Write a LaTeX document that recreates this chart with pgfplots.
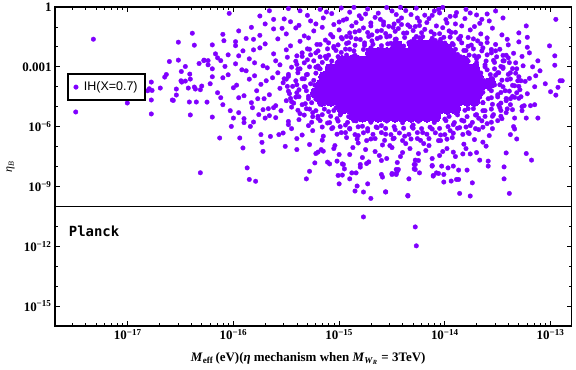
\documentclass[border=0pt]{standalone}
\usepackage{fontspec}
\setmainfont{Liberation Serif}
\newfontfamily\legfont{Liberation Sans}
\newfontfamily\plfont{DejaVu Sans Mono}
\usepackage{pgfplots}
\pgfplotsset{compat=1.18}
\usetikzlibrary{calc}
\definecolor{dotviolet}{rgb}{0.5,0,1}
% axes carry log10 values, ticks labelled by hand
\newcommand\tl[1]{10\textsuperscript{−#1}}

\begin{document}
\begin{tikzpicture}
\begin{axis}[
  scale only axis, width=516.7bp, height=319bp,
  xmin=-17.688, xmax=-12.80, ymin=-16, ymax=0,
  xtick={-17,-16,-15,-14,-13},
  xticklabels={\tl{17},\tl{16},\tl{15},\tl{14},\tl{13}},
  minor xtick={-17.523,-17.398,-17.301,-17.222,-17.155,-17.097,-17.046,
    -16.699,-16.523,-16.398,-16.301,-16.222,-16.155,-16.097,-16.046,
    -15.699,-15.523,-15.398,-15.301,-15.222,-15.155,-15.097,-15.046,
    -14.699,-14.523,-14.398,-14.301,-14.222,-14.155,-14.097,-14.046,
    -13.699,-13.523,-13.398,-13.301,-13.222,-13.155,-13.097,-13.046},
  ytick={0,-3,-6,-9,-12,-15},
  yticklabels={1,0.001,\tl{6},\tl{9},\tl{12},\tl{15}},
  minor ytick={-1,-2,-4,-5,-7,-8,-10,-11,-13,-14},
  ticklabel style={font=\fontsize{13}{15}\selectfont\bfseries},
  major tick length=5bp, minor tick length=3bp,
  tick style={black, line width=0.8bp},
  axis line style={line width=1.2bp},
  xlabel={\textbf{\textit{M}\textsubscript{eff}\,(eV)(\textit{η} mechanism when \textit{M}\textsubscript{\textit{W}\textsubscript{\textit{R}}} = 3TeV)}},
  xlabel style={at={(axis description cs:0.49,-0.102)}, anchor=center, font=\fontsize{13}{15}\selectfont},
  ylabel={\textit{η}\textsubscript{\textit{B}}},
  ylabel style={at={(axis description cs:-0.086,0.5)}, anchor=center, font=\fontsize{12}{14}\selectfont},
  legend style={at={(0.0232,0.792)}, anchor=north west, draw=black, line width=2bp,
    fill=white, font=\legfont\fontsize{12.5}{14}\selectfont, inner xsep=5bp, inner ysep=5.5bp},
  legend image code/.code={\draw[#1] plot coordinates {(0bp,0bp)}; \path[draw=none] (-3bp,0bp) -- (6bp,0bp);},
]
% dense core, overlapping points drawn as larger dots
\addplot[only marks, mark=*, mark size=5.5bp, color=dotviolet, mark options={line width=0pt}, forget plot] coordinates {
(-14.45,-1.95)(-14.30,-1.9)(-14.22,-1.9)(-14.14,-1.9)(-14.06,-1.95)(-13.98,-2.1)
(-14.70,-2.3)(-14.63,-2.3)(-14.55,-2.3)(-14.47,-2.3)(-14.40,-2.3)(-14.32,-2.3)(-14.25,-2.3)(-14.17,-2.3)(-14.09,-2.3)(-14.02,-2.3)(-13.94,-2.35)
(-14.97,-2.7)(-14.89,-2.7)(-14.82,-2.7)(-14.74,-2.7)(-14.66,-2.7)(-14.59,-2.7)(-14.51,-2.7)(-14.44,-2.7)(-14.36,-2.7)(-14.28,-2.7)(-14.21,-2.7)(-14.13,-2.7)(-14.05,-2.7)(-13.98,-2.7)(-13.90,-2.7)(-13.82,-2.7)
(-15.08,-3.1)(-15.00,-3.1)(-14.93,-3.1)(-14.85,-3.1)(-14.78,-3.1)(-14.70,-3.1)(-14.62,-3.1)(-14.55,-3.1)(-14.47,-3.1)(-14.40,-3.1)(-14.32,-3.1)(-14.25,-3.1)(-14.17,-3.1)(-14.09,-3.1)(-14.02,-3.1)(-13.94,-3.1)(-13.87,-3.1)(-13.79,-3.1)(-13.72,-3.1)
(-15.14,-3.5)(-15.06,-3.5)(-14.99,-3.5)(-14.91,-3.5)(-14.83,-3.5)(-14.76,-3.5)(-14.68,-3.5)(-14.61,-3.5)(-14.53,-3.5)(-14.45,-3.5)(-14.38,-3.5)(-14.30,-3.5)(-14.23,-3.5)(-14.15,-3.5)(-14.07,-3.5)(-14.00,-3.5)(-13.92,-3.5)(-13.84,-3.5)(-13.77,-3.5)(-13.69,-3.5)
(-15.17,-3.9)(-15.09,-3.9)(-15.02,-3.9)(-14.94,-3.9)(-14.86,-3.9)(-14.79,-3.9)(-14.71,-3.9)(-14.64,-3.9)(-14.56,-3.9)(-14.48,-3.9)(-14.41,-3.9)(-14.33,-3.9)(-14.26,-3.9)(-14.18,-3.9)(-14.10,-3.9)(-14.03,-3.9)(-13.95,-3.9)(-13.88,-3.9)(-13.80,-3.9)(-13.72,-3.9)(-13.65,-3.9)(-13.57,-3.8)
(-15.22,-4.3)(-15.14,-4.3)(-15.06,-4.3)(-14.99,-4.3)(-14.91,-4.3)(-14.83,-4.3)(-14.76,-4.3)(-14.68,-4.3)(-14.61,-4.3)(-14.53,-4.3)(-14.45,-4.3)(-14.38,-4.3)(-14.30,-4.3)(-14.23,-4.3)(-14.15,-4.3)(-14.07,-4.3)(-14.00,-4.3)(-13.92,-4.3)(-13.84,-4.3)(-13.77,-4.3)(-13.69,-4.3)
(-15.16,-4.7)(-15.08,-4.7)(-15.00,-4.7)(-14.93,-4.7)(-14.85,-4.7)(-14.78,-4.7)(-14.70,-4.7)(-14.62,-4.7)(-14.55,-4.7)(-14.47,-4.7)(-14.40,-4.7)(-14.32,-4.7)(-14.25,-4.7)(-14.17,-4.7)(-14.09,-4.7)(-14.02,-4.7)(-13.94,-4.7)(-13.87,-4.7)(-13.79,-4.7)(-13.72,-4.7)
(-14.97,-5.1)(-14.89,-5.1)(-14.82,-5.1)(-14.74,-5.1)(-14.66,-5.1)(-14.59,-5.1)(-14.51,-5.1)(-14.44,-5.1)(-14.36,-5.1)(-14.28,-5.1)(-14.21,-5.1)(-14.13,-5.1)(-14.05,-5.1)(-13.98,-5.1)(-13.90,-5.1)
(-14.86,-5.45)(-14.78,-5.5)(-14.70,-5.5)(-14.63,-5.5)(-14.55,-5.5)(-14.47,-5.5)(-14.40,-5.5)(-14.32,-5.5)(-14.25,-5.5)(-14.17,-5.5)(-14.09,-5.5)
};
% crowded zone round the core
\addplot[only marks, mark=*, mark size=2.3bp, color=dotviolet, mark options={line width=0.3bp}, forget plot] coordinates {
(-14.58,-0.9)(-14.49,-1.02)(-14.41,-0.88)(-14.33,-0.99)(-14.24,-0.93)
(-14.9,-1.3)(-14.81,-1.19)(-14.73,-1.28)(-14.64,-1.21)(-14.56,-1.33)(-14.47,-1.22)(-14.39,-1.31)(-14.3,-1.18)(-14.22,-1.29)(-14.13,-1.24)(-14.05,-1.34)(-13.96,-1.2)(-13.9,-1.27)
(-15.06,-1.5)(-14.97,-1.6)(-14.89,-1.52)(-14.8,-1.63)(-14.72,-1.48)(-14.64,-1.58)(-14.55,-1.5)(-14.46,-1.61)(-14.38,-1.53)(-14.29,-1.6)(-14.21,-1.49)(-14.12,-1.57)(-14.04,-1.62)(-13.95,-1.51)(-13.87,-1.59)(-13.78,-1.53)(-13.73,-1.6)
(-15.18,-1.88)(-15.1,-1.8)(-15.01,-1.9)(-14.93,-1.83)(-14.85,-1.92)(-14.76,-1.8)(-14.68,-1.87)(-14.6,-1.94)(-14.51,-1.82)(-14.43,-1.9)(-14.34,-1.79)(-14.26,-1.88)(-14.18,-1.84)(-14.09,-1.93)(-14.0,-1.81)(-13.92,-1.89)(-13.84,-1.8)(-13.75,-1.91)(-13.66,-1.85)(-13.6,-1.78)
(-15.28,-2.12)(-15.2,-2.2)(-15.11,-2.1)(-15.03,-2.18)(-14.94,-2.11)(-14.86,-2.2)(-14.77,-2.13)(-14.69,-2.19)(-14.6,-2.1)(-14.45,-2.14)(-14.3,-2.09)(-14.16,-2.17)(-14.07,-2.1)(-13.99,-2.2)(-13.9,-2.12)(-13.82,-2.18)(-13.73,-2.1)(-13.65,-2.2)(-13.56,-2.13)(-13.52,-2.2)
(-15.35,-2.48)(-15.27,-2.4)(-15.18,-2.5)(-15.1,-2.42)(-15.01,-2.49)(-14.93,-2.41)(-14.87,-2.5)(-13.93,-2.42)(-13.85,-2.5)(-13.77,-2.41)(-13.68,-2.48)(-13.6,-2.4)(-13.51,-2.5)(-13.45,-2.43)
(-15.41,-2.72)(-15.33,-2.8)(-15.24,-2.7)(-15.16,-2.78)(-15.07,-2.71)(-15.02,-2.8)(-13.78,-2.72)(-13.7,-2.8)(-13.61,-2.71)(-13.53,-2.78)(-13.45,-2.7)(-13.39,-2.79)
(-15.45,-3.02)(-15.37,-3.1)(-15.28,-3.0)(-15.19,-3.08)(-15.11,-3.03)(-13.7,-3.08)(-13.62,-3.0)(-13.53,-3.1)(-13.45,-3.02)(-13.36,-3.09)
(-15.48,-3.38)(-15.39,-3.3)(-15.31,-3.4)(-15.22,-3.32)(-15.15,-3.4)(-13.66,-3.31)(-13.57,-3.39)(-13.49,-3.3)(-13.4,-3.38)(-13.33,-3.32)
(-15.5,-3.62)(-15.41,-3.7)(-15.33,-3.6)(-15.24,-3.68)(-15.17,-3.61)(-13.63,-3.69)(-13.55,-3.6)(-13.46,-3.67)(-13.38,-3.61)(-13.31,-3.7)
(-15.49,-3.98)(-15.4,-3.9)(-15.32,-4.0)(-15.23,-3.92)(-13.62,-3.99)(-13.53,-3.91)(-13.45,-4.0)(-13.36,-3.93)(-13.3,-3.98)
(-15.48,-4.22)(-15.4,-4.3)(-15.31,-4.2)(-15.22,-4.28)(-15.16,-4.21)(-13.64,-4.28)(-13.56,-4.2)(-13.47,-4.29)(-13.39,-4.22)(-13.32,-4.3)
(-15.46,-4.58)(-15.38,-4.5)(-15.29,-4.6)(-15.21,-4.52)(-15.14,-4.6)(-13.67,-4.52)(-13.59,-4.6)(-13.5,-4.51)(-13.42,-4.59)(-13.34,-4.53)
(-15.43,-4.82)(-15.35,-4.9)(-15.26,-4.8)(-15.18,-4.88)(-15.09,-4.81)(-13.72,-4.89)(-13.64,-4.8)(-13.55,-4.88)(-13.47,-4.82)(-13.38,-4.9)
(-15.39,-5.18)(-15.31,-5.1)(-15.22,-5.2)(-15.14,-5.12)(-15.05,-5.19)(-14.98,-5.11)(-13.81,-5.18)(-13.73,-5.1)(-13.64,-5.2)(-13.56,-5.12)(-13.47,-5.19)(-13.41,-5.11)
(-15.33,-5.42)(-15.25,-5.5)(-15.16,-5.4)(-15.08,-5.48)(-14.99,-5.41)(-14.91,-5.5)(-14.84,-5.43)(-13.96,-5.49)(-13.88,-5.41)(-13.79,-5.5)(-13.71,-5.42)(-13.62,-5.49)(-13.54,-5.4)(-13.47,-5.48)
(-15.26,-5.78)(-15.18,-5.7)(-15.09,-5.8)(-15.01,-5.72)(-14.92,-5.79)(-14.84,-5.71)(-14.7,-5.78)(-14.55,-5.72)(-14.4,-5.8)(-14.25,-5.73)(-14.1,-5.79)(-13.99,-5.7)(-13.91,-5.8)(-13.82,-5.72)(-13.74,-5.79)(-13.65,-5.71)(-13.56,-5.78)
(-15.16,-6.02)(-15.07,-6.1)(-14.99,-6.0)(-14.9,-6.09)(-14.82,-6.01)(-14.73,-6.1)(-14.65,-6.02)(-14.56,-6.09)(-14.48,-6.0)(-14.39,-6.08)(-14.31,-6.01)(-14.22,-6.1)(-14.14,-6.03)(-14.05,-6.09)(-13.97,-6.0)(-13.88,-6.08)(-13.8,-6.02)(-13.71,-6.1)(-13.64,-6.03)
(-15.02,-6.38)(-14.94,-6.3)(-14.85,-6.4)(-14.77,-6.31)(-14.68,-6.39)(-14.6,-6.3)(-14.51,-6.4)(-14.43,-6.32)(-14.34,-6.39)(-14.26,-6.3)(-14.17,-6.38)(-14.09,-6.31)(-14.0,-6.4)(-13.92,-6.33)(-13.83,-6.39)(-13.78,-6.3)
(-14.83,-6.62)(-14.74,-6.7)(-14.66,-6.6)(-14.57,-6.69)(-14.49,-6.61)(-14.4,-6.7)(-14.32,-6.62)(-14.23,-6.69)(-14.15,-6.6)(-14.06,-6.7)(-13.98,-6.63)
(-14.93,-0.6)(-14.84,-0.78)(-14.75,-0.35)(-14.66,-0.52)(-14.58,-0.75)(-14.5,-0.2)(-14.41,-0.55)(-14.32,-0.38)(-14.24,-0.72)(-14.15,-0.58)
(-14.06,-0.12)(-13.98,-0.8)(-13.9,-0.45)(-13.84,-0.95)(-13.76,-0.3)(-14.7,-0.95)(-14.48,-0.85)(-14.28,-0.98)(-15.0,-0.75)(-15.12,-0.25)
(-15.22,-0.85)(-14.12,-0.42)(-13.65,-0.62)
(-15.0,-7.4)(-14.87,-7.05)(-14.78,-7.55)(-14.66,-7.25)(-14.55,-7.6)(-14.42,-7.5)(-14.33,-7.1)(-14.25,-7.35)(-14.12,-7.6)(-14.02,-7.25)
(-13.9,-7.5)(-13.8,-7.1)(-13.7,-7.3)(-14.52,-6.95)(-14.2,-6.85)
};
% scattered points
\addplot[only marks, mark=*, mark size=2.3bp, color=dotviolet, mark options={line width=0.3bp}] coordinates {
(-17.325,-1.615)(-17.492,-5.265)(-17.004,-4.815)(-16.777,-3.765)(-16.796,-4.10)(-16.770,-4.185)(-16.811,-4.20)(-16.777,-4.665)(-16.777,-5.365)(-16.692,-4.065)
(-16.650,-3.515)(-16.635,-3.385)(-16.606,-2.735)(-16.521,-1.765)(-16.521,-2.665)(-16.389,-1.315)(-16.370,-1.915)(-16.455,-2.985)(-16.493,-3.235)(-16.496,-3.70)
(-16.489,-3.765)(-16.455,-3.715)(-16.413,-3.365)(-16.408,-3.615)(-16.540,-4.115)(-16.540,-4.415)(-16.427,-4.065)(-16.578,-4.665)(-16.569,-4.685)(-16.417,-4.765)
(-16.408,-5.415)(-16.351,-4.765)(-16.370,-4.015)(-16.360,-4.115)(-16.325,-2.835)(-16.278,-2.665)(-16.313,-4.15)(-16.300,-3.965)(-16.313,-8.315)
(-16.04,-0.32)(-15.66,-0.19)(-15.62,-0.62)(-15.37,-0.19)(-15.83,-1.02)(-16.10,-1.37)(-16.09,-1.69)(-15.98,-1.74)(-15.98,-1.94)(-15.81,-1.62)
(-15.54,-1.07)(-15.46,-0.74)(-15.81,-2.15)(-15.91,-2.20)(-16.17,-2.35)(-16.28,-2.69)(-16.24,-2.69)(-16.24,-2.90)(-16.12,-2.69)(-16.25,-4.77)
(-16.20,-5.52)(-16.13,-6.57)(-15.94,-6.57)(-15.91,-7.07)(-15.72,-7.24)(-15.87,-8.07)(-15.85,-8.65)(-15.79,-8.74)(-15.40,-7.15)(-15.31,-8.62)
(-15.28,-8.24)(-15.23,-7.82)(-16.00,-5.57)(-16.02,-5.99)(-15.84,-5.99)(-15.81,-5.77)(-15.74,-6.40)(-15.73,-6.79)(-15.65,-6.49)(-15.57,-6.40)
(-15.53,-6.32)(-15.51,-6.99)(-15.48,-5.74)(-15.76,-5.40)(-15.70,-5.57)(-15.72,-5.15)(-15.67,-5.10)
(-15.01,-8.45)(-15.0,-8.87)(-14.97,-8.43)(-14.90,-8.62)(-14.85,-9.23)(-14.77,-9.28)(-14.73,-8.87)(-14.70,-9.6)(-14.83,-8.98)(-14.56,-9.27)
(-14.35,-9.48)(-14.34,-8.62)(-14.59,-8.53)(-14.60,-8.4)(-14.46,-8.35)(-14.44,-8.15)(-14.11,-8.45)(-14.08,-8.32)(-14.01,-8.78)(-13.87,-8.65)
(-14.74,-7.85)(-14.72,-7.77)(-14.88,-8.32)(-14.84,-8.32)(-14.80,-7.9)(-14.80,-8.03)(-14.96,-7.9)(-14.95,-8.12)(-14.50,-8.4)(-14.46,-8.4)
(-14.29,-7.9)(-14.29,-8.12)(-14.24,-8.32)(-14.25,-7.7)(-14.12,-7.98)(-14.01,-8.4)(-14.03,-7.98)(-13.97,-8.07)(-13.92,-7.98)(-13.83,-7.37)
(-13.76,-7.37)(-13.92,-7.28)(-15.11,-7.78)(-15.09,-7.87)(-15.22,-7.35)(-15.2,-7.28)(-15.17,-7.15)(-15.15,-7.23)(-15.02,-7.73)(-14.97,-7.87)
(-14.77,-10.53)(-14.28,-11.03)(-14.27,-11.98)
(-12.95,-0.62)(-13.23,-0.95)(-13.22,-1.52)(-13.22,-2.02)(-13.01,-1.95)(-12.96,-2.45)(-12.96,-2.92)(-12.91,-3.7)(-12.89,-3.7)(-12.93,-4.03)
(-12.95,-4.42)(-13.14,-3.45)(-13.12,-5.57)(-13.15,-4.9)(-13.19,-4.95)(-13.23,-5.57)(-13.18,-7.68)(-13.23,-7.35)(-13.39,-9.35)(-13.44,-8.62)
(-13.44,-8.02)(-13.42,-7.32)(-13.32,-6.62)(-13.38,-6.4)(-13.34,-6.12)(-13.36,-5.15)(-13.34,-5.57)(-13.24,-3.73)(-13.20,-3.58)(-13.26,-2.95)
(-13.27,-2.48)(-13.35,-2.32)(-13.41,-1.62)(-13.67,-0.82)(-13.70,-0.40)(-13.89,-0.28)(-13.52,-0.2)(-13.86,-9.35)(-13.76,-9.48)(-13.94,-8.73)
(-13.89,-8.65)(-13.79,-8.18)(-13.87,-8.18)(-13.74,-8.82)(-13.67,-7.68)(-13.59,-7.73)(-13.59,-7.98)(-13.64,-6.78)(-13.61,-6.98)(-14.12,-7.95)
(-14.06,-8.35)(-14.11,-8.48)(-14.28,-7.68)(-14.28,-7.9)(-14.28,-8.15)(-14.46,-8.15)(-14.45,-8.23)(-14.50,-8.35)(-14.35,-9.45)(-14.56,-9.28)
(-15.48,-0.08)(-15.3,-0.42)(-15.18,-0.12)(-15.07,-0.33)(-14.98,-0.05)(-14.9,-0.26)(-14.81,-0.44)(-14.73,-0.1)(-14.63,-0.31)(-14.55,-0.03)
(-14.46,-0.38)(-14.37,-0.18)(-14.27,-0.06)(-14.19,-0.41)(-14.1,-0.2)(-14.02,-0.02)(-13.95,-0.47)(-13.8,-0.12)(-13.6,-0.35)(-15.75,-0.45)
(-14.86,-0.02)(-14.42,-0.02)(-14.05,-0.3)
(-15.7,-0.85)(-15.52,-0.6)(-15.38,-0.92)(-15.27,-0.7)(-15.15,-0.55)(-15.05,-0.88)(-14.96,-0.66)(-14.88,-0.95)(-14.79,-0.58)(-14.7,-0.8)
(-14.61,-0.62)(-14.53,-0.97)(-14.44,-0.7)(-14.35,-0.9)(-14.26,-0.55)(-14.17,-0.78)(-14.08,-0.95)(-13.99,-0.63)(-13.9,-0.85)(-13.81,-0.58)
(-13.72,-0.98)(-13.58,-0.7)(-13.45,-0.55)
(-15.95,-1.2)(-15.75,-1.42)(-15.62,-1.1)(-15.5,-1.35)(-15.41,-1.05)(-15.33,-1.45)(-15.24,-1.2)(-15.16,-1.02)(-15.08,-1.38)(-15.0,-1.15)
(-14.93,-1.48)(-14.85,-1.25)(-14.77,-1.05)(-14.69,-1.4)(-14.6,-1.18)(-14.52,-1.46)(-14.44,-1.08)(-14.36,-1.3)(-14.27,-1.48)(-14.19,-1.12)
(-14.1,-1.36)(-14.02,-1.04)(-13.94,-1.28)(-13.85,-1.47)(-13.76,-1.15)(-13.66,-1.35)(-13.55,-1.06)(-13.46,-1.4)
(-16.2,-1.9)(-15.88,-1.58)(-15.7,-1.85)(-15.58,-1.6)(-15.46,-1.95)(-15.37,-1.72)(-15.29,-1.55)(-15.21,-1.88)(-15.13,-1.66)(-15.05,-1.98)
(-14.98,-1.53)(-14.91,-1.79)(-14.84,-1.6)(-14.76,-1.92)(-14.69,-1.7)(-14.61,-1.52)(-14.54,-1.85)(-14.47,-1.62)(-14.39,-1.96)(-14.32,-1.74)
(-14.24,-1.55)(-14.17,-1.9)(-14.09,-1.68)(-14.01,-1.52)(-13.93,-1.83)(-13.86,-1.62)(-13.78,-1.97)(-13.69,-1.7)(-13.6,-1.55)(-13.52,-1.88)
(-13.3,-1.75)
(-16.05,-2.4)(-15.75,-2.05)(-15.62,-2.35)(-15.5,-2.15)(-15.4,-2.45)(-15.3,-2.1)(-15.22,-2.3)(-15.13,-2.48)(-15.05,-2.05)(-14.98,-2.28)
(-14.9,-2.12)(-14.85,-2.42)(-13.95,-2.1)(-13.88,-2.38)(-13.8,-2.18)(-13.72,-2.45)(-13.64,-2.05)(-13.56,-2.3)(-13.48,-2.12)(-13.42,-2.42)
(-14.7,-2.05)(-14.5,-2.08)(-14.3,-2.02)(-14.1,-2.06)
(-16.15,-2.55)(-15.98,-2.85)(-15.85,-2.6)(-15.72,-2.95)(-15.6,-2.7)(-15.49,-2.52)(-15.4,-2.88)(-15.3,-2.65)(-15.2,-2.96)(-15.12,-2.58)
(-13.7,-2.6)(-13.62,-2.9)(-13.54,-2.68)(-13.47,-2.98)(-13.4,-2.55)(-13.33,-2.8)(-13.12,-2.7)
(-16.2,-3.1)(-16.05,-3.4)(-15.92,-3.15)(-15.8,-3.45)(-15.68,-3.05)(-15.58,-3.3)(-15.48,-3.48)(-15.39,-3.12)(-15.3,-3.38)(-15.22,-3.02)
(-13.6,-3.15)(-13.52,-3.42)(-13.45,-3.08)(-13.38,-3.3)(-13.3,-3.5)(-13.1,-3.2)
(-16.22,-3.85)(-16.1,-3.55)(-15.97,-3.92)(-15.85,-3.62)(-15.74,-3.88)(-15.63,-3.55)(-15.53,-3.8)(-15.44,-3.98)(-15.35,-3.6)(-15.27,-3.85)
(-13.56,-3.6)(-13.48,-3.9)(-13.41,-3.65)(-13.34,-3.95)(-13.28,-3.7)(-13.05,-3.85)
(-16.15,-4.3)(-16.0,-4.05)(-15.9,-4.45)(-15.78,-4.2)(-15.66,-4.4)(-15.56,-4.08)(-15.47,-4.35)(-15.38,-4.15)(-15.29,-4.48)
(-13.58,-4.1)(-13.5,-4.4)(-13.43,-4.2)(-13.36,-4.48)(-13.29,-4.15)(-13.22,-4.35)(-13.0,-4.25)
(-16.1,-4.9)(-15.95,-4.55)(-15.83,-4.8)(-15.71,-4.6)(-15.6,-4.95)(-15.5,-4.7)(-15.41,-4.52)(-15.32,-4.85)(-15.22,-4.62)
(-13.64,-4.8)(-13.56,-4.55)(-13.49,-4.92)(-13.42,-4.7)(-13.3,-4.58)(-13.25,-4.95)
(-15.95,-5.3)(-15.82,-5.05)(-15.66,-5.45)(-15.55,-5.2)(-15.45,-5.02)(-15.37,-5.35)(-15.28,-5.12)(-15.2,-5.48)(-15.1,-5.25)(-15.03,-5.05)
(-13.78,-5.1)(-13.7,-5.4)(-13.62,-5.2)(-13.55,-5.48)(-13.48,-5.05)(-13.42,-5.3)(-13.27,-5.2)
(-15.9,-5.8)(-15.6,-5.55)(-15.48,-5.9)(-15.38,-5.65)(-15.29,-5.95)(-15.2,-5.58)(-15.11,-5.82)(-15.02,-5.6)(-14.94,-5.92)(-14.86,-5.7)
(-14.78,-5.98)(-14.0,-5.62)(-13.92,-5.9)(-13.84,-5.68)(-13.76,-5.95)(-13.68,-5.58)(-13.6,-5.85)(-13.5,-5.7)(-14.6,-5.95)(-14.3,-5.92)
(-15.45,-6.1)(-15.35,-6.42)(-15.25,-6.2)(-15.15,-6.48)(-15.06,-6.05)(-14.98,-6.3)(-14.9,-6.12)(-14.82,-6.45)(-14.73,-6.22)(-14.64,-6.05)
(-14.56,-6.38)(-14.47,-6.15)(-14.38,-6.48)(-14.3,-6.08)(-14.21,-6.3)(-14.12,-6.12)(-14.04,-6.42)(-13.95,-6.2)(-13.86,-6.05)(-13.77,-6.35)
(-13.68,-6.15)(-13.58,-6.45)
(-15.4,-6.6)(-15.28,-6.9)(-15.16,-6.68)(-15.04,-6.95)(-14.93,-6.55)(-14.82,-6.82)(-14.7,-6.62)(-14.59,-6.92)(-14.48,-6.58)(-14.37,-6.85)
(-14.26,-6.6)(-14.15,-6.95)(-14.04,-6.7)(-13.93,-6.55)(-13.82,-6.88)(-13.72,-6.65)
(-15.05,-7.1)(-14.9,-7.4)(-14.75,-7.15)(-14.62,-7.45)(-14.5,-7.05)(-14.4,-7.3)(-14.18,-7.2)(-14.05,-7.45)(-13.98,-7.1)(-14.6,-7.7)(-14.45,-7.8)
(-16.2,-3.5)(-16.08,-2.98)(-15.95,-2.45)(-15.88,-3.2)(-15.77,-4.6)(-15.69,-3.7)(-15.62,-5.05)(-15.56,-2.9)(-15.45,-4.75)(-15.35,-2.3)
(-15.33,-4.0)(-15.25,-5.3)(-15.18,-3.1)(-16.03,-5.2)(-15.9,-5.6)(-15.8,-2.8)(-16.12,-4.55)(-15.52,-3.6)
(-13.5,-3.3)(-13.44,-2.7)(-13.38,-4.6)(-13.32,-3.1)(-13.27,-5.0)(-13.2,-2.3)(-13.15,-4.0)(-13.46,-5.6)(-13.55,-6.1)(-13.4,-1.9)
(-13.3,-1.3)(-13.35,-6.0)(-13.17,-3.0)(-13.28,-4.5)
};
\addlegendentry{IH(X=0.7)}
% Planck value
\addplot[black, line width=1.1bp, forget plot] coordinates {(-17.688,-10) (-12.80,-10)};
\node[anchor=west, font=\plfont\fontsize{14}{16}\selectfont\bfseries] at (axis cs:-17.59,-11.24) {Planck};
\end{axis}
\pgfresetboundingbox
\path ($(current axis.south west)+(-55bp,-44bp)$) rectangle ($(current axis.north east)+(4.3bp,7bp)$);
\end{tikzpicture}
\end{document}
